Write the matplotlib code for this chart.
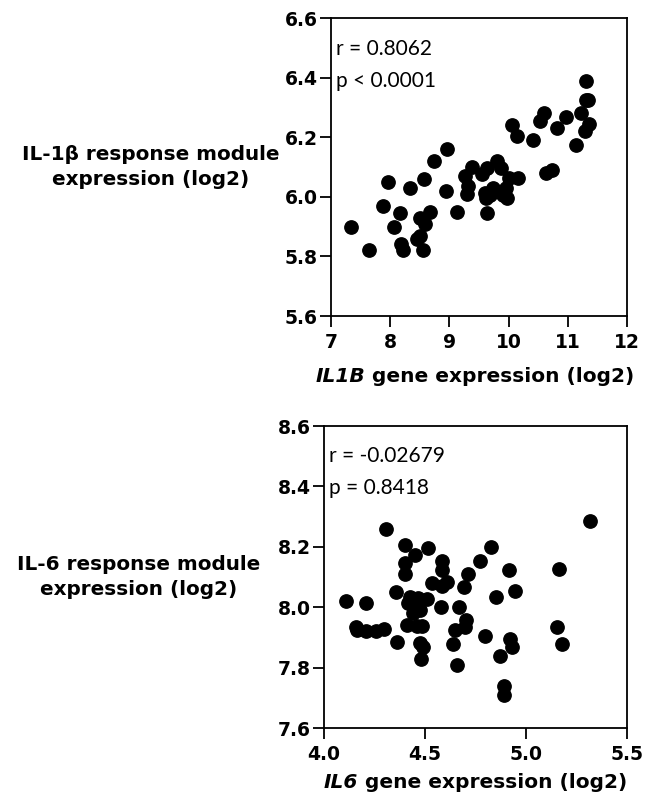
import matplotlib
matplotlib.use("Agg")
import matplotlib.pyplot as plt
from matplotlib.offsetbox import TextArea, HPacker, AnchoredOffsetbox

# ---------------- data ----------------
il1b_x = [7.33, 7.64, 7.97, 7.88, 8.17, 8.06, 8.18, 8.21, 8.33, 8.57, 8.74, 8.96,
          8.95, 9.13, 8.68, 8.50, 8.59, 8.50, 8.46, 8.56, 9.38, 9.26, 9.32, 9.29,
          11.30, 11.30, 11.34, 11.22, 11.35, 11.29, 11.14, 10.97, 10.82, 10.60,
          10.53, 10.05, 10.14, 10.42, 10.74, 10.63, 9.81, 9.88, 9.63, 9.55, 10.00,
          10.16, 9.96, 9.74, 9.60, 9.69, 9.91, 9.98, 9.62, 9.64]
il1b_y = [5.90, 5.82, 6.05, 5.97, 5.945, 5.90, 5.84, 5.82, 6.03, 6.06, 6.12, 6.16,
          6.02, 5.95, 5.95, 5.93, 5.91, 5.87, 5.86, 5.82, 6.10, 6.07, 6.035, 6.01,
          6.39, 6.324, 6.324, 6.28, 6.244, 6.22, 6.175, 6.267, 6.23, 6.28,
          6.256, 6.24, 6.205, 6.19, 6.09, 6.08, 6.12, 6.095, 6.097, 6.075, 6.063,
          6.063, 6.03, 6.03, 6.013, 6.007, 6.007, 5.996, 5.996, 5.946]

il6_x = [4.305, 4.40, 4.45, 4.517, 4.40, 4.40, 4.583, 4.583, 4.533, 4.583, 4.608,
         4.356, 4.111, 4.21, 4.426, 4.467, 4.509, 4.417, 4.459, 4.475, 4.442, 4.578,
         4.666, 4.715, 4.694, 4.649, 4.70, 4.157, 4.161, 4.21, 4.257, 4.297, 4.412,
         4.459, 4.484, 4.36, 4.475, 4.492, 4.479, 4.641, 4.658, 5.315, 4.827, 4.773,
         4.914, 5.163, 4.947, 4.853, 4.704, 4.798, 4.922, 4.93, 4.869, 5.151, 5.179,
         4.89, 4.893]
il6_y = [8.258, 8.206, 8.173, 8.195, 8.147, 8.11, 8.154, 8.123, 8.079, 8.07, 8.085,
         8.05, 8.022, 8.015, 8.035, 8.03, 8.027, 8.013, 8.002, 7.991, 7.98, 8.002,
         8.0, 8.11, 8.068, 7.924, 7.933, 7.936, 7.923, 7.92, 7.92, 7.927, 7.941,
         7.938, 7.938, 7.884, 7.883, 7.867, 7.829, 7.879, 7.807, 8.286, 8.198, 8.153,
         8.123, 8.127, 8.054, 8.033, 7.958, 7.903, 7.894, 7.867, 7.839, 7.936, 7.878,
         7.738, 7.71]

top_xticks = [7, 8, 9, 10, 11, 12]
top_yticks = [5.6, 5.8, 6.0, 6.2, 6.4, 6.6]
bot_xticks = [4.0, 4.5, 5.0, 5.5]
bot_yticks = [7.6, 7.8, 8.0, 8.2, 8.4, 8.6]

top_stats = ["r = 0.8062", "p < 0.0001"]
bot_stats = ["r = -0.02679", "p = 0.8418"]
top_ylabel = "IL-1β response module\nexpression (log2)"
bot_ylabel = "IL-6 response module\nexpression (log2)"
top_gene = "IL1B"
bot_gene = "IL6"
xlabel_rest = " gene expression (log2)"

# ---------------- style ----------------
FONT = ["DejaVu Sans"]
STATFONT = ["Lato", "DejaVu Sans"]
plt.rcParams["font.family"] = FONT
W, H = 645, 811
fig = plt.figure(figsize=(W / 100, H / 100), dpi=100)


def px_axes(l, t, r, b):
    return fig.add_axes([l / W, 1 - b / H, (r - l) / W, (b - t) / H])


def style(ax, xt, yt, xfmt, yfmt):
    ax.set_xlim(xt[0], xt[-1])
    ax.set_ylim(yt[0], yt[-1])
    ax.set_xticks(xt)
    ax.set_yticks(yt)
    ax.set_xticklabels([xfmt.format(v) for v in xt])
    ax.set_yticklabels([yfmt.format(v) for v in yt])
    for s in ax.spines.values():
        s.set_linewidth(1.3)
    ax.tick_params(direction="out", length=8, width=1.3, labelsize=13.5)
    ax.tick_params(axis="x", pad=4.5)
    ax.tick_params(axis="y", pad=1.5)
    for lab in ax.get_xticklabels() + ax.get_yticklabels():
        lab.set_fontweight("bold")


def xlabel(gene, ycap_px):
    t1 = TextArea(gene, textprops=dict(fontsize=14.5, fontweight="bold",
                                       fontstyle="italic", family=FONT))
    t2 = TextArea(xlabel_rest, textprops=dict(fontsize=14.5, fontweight="bold",
                                              family=FONT))
    box = HPacker(children=[t1, t2], align="baseline", pad=0, sep=0)
    ab = AnchoredOffsetbox(loc="center", child=box, pad=0, frameon=False,
                           bbox_to_anchor=(475 / W, 1 - ycap_px / H),
                           bbox_transform=fig.transFigure, borderpad=0)
    fig.add_artist(ab)


# top panel
ax1 = px_axes(331, 18, 627, 316)
ax1.plot(il1b_x, il1b_y, "o", color="black", markersize=9.6, clip_on=False)
style(ax1, top_xticks, top_yticks, "{:d}", "{:.1f}")
for i, s in enumerate(top_stats):
    ax1.text(0.018, 0.897 - i * 0.107, s, transform=ax1.transAxes, fontsize=15,
             family=STATFONT, va="center", ha="left")
xlabel(top_gene, 376)
fig.text(151 / W, 1 - 167 / H, top_ylabel, ha="center", va="center",
         fontsize=14.4, fontweight="bold", linespacing=1.35)

# bottom panel
ax2 = px_axes(324, 426, 627, 728)
ax2.plot(il6_x, il6_y, "o", color="black", markersize=9.6, clip_on=False)
style(ax2, bot_xticks, bot_yticks, "{:.1f}", "{:.1f}")
for i, s in enumerate(bot_stats):
    ax2.text(0.018, 0.9 - i * 0.106, s, transform=ax2.transAxes, fontsize=15,
             family=STATFONT, va="center", ha="left")
xlabel(bot_gene, 783)
fig.text(139 / W, 1 - 577 / H, bot_ylabel, ha="center", va="center",
         fontsize=14.4, fontweight="bold", linespacing=1.35)

fig.savefig("out.png", dpi=100)
